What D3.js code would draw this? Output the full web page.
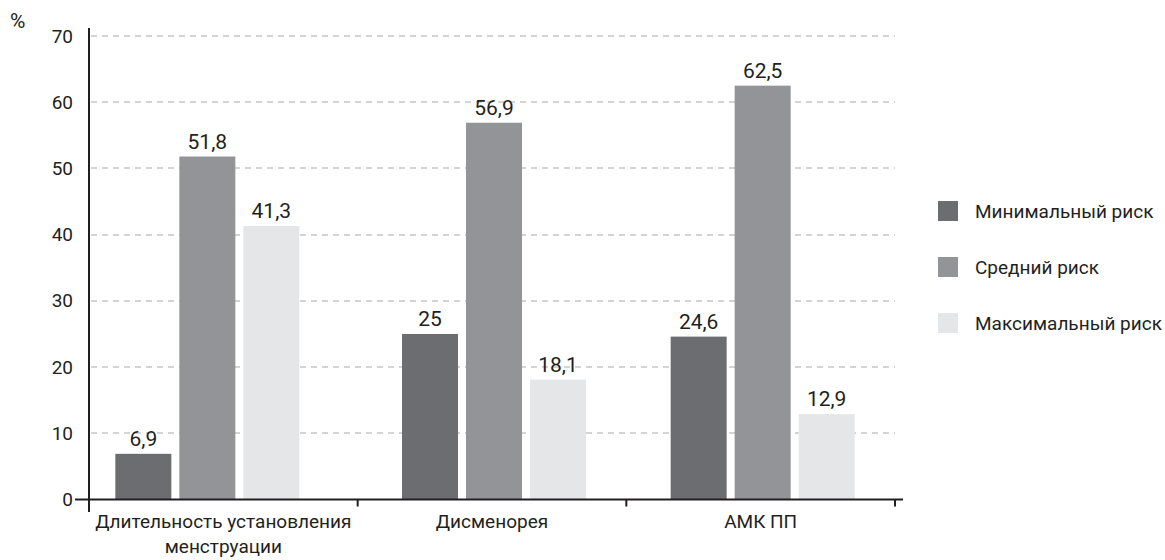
<!DOCTYPE html>
<html>
<head>
<meta charset="utf-8">
<script src="https://cdn.jsdelivr.net/npm/d3@7"></script>
<style>
  html, body { margin: 0; padding: 0; background: #fff; }
  svg text { font-family: Roboto, "Noto Sans", sans-serif; fill: #231f20; }
</style>
</head>
<body>
<svg id="chart" width="1165" height="560"></svg>
<script>
// ---- data ----
const categories = [["Длительность установления", "менструации"], ["Дисменорея"], ["АМК ПП"]];
const seriesNames = ["Минимальный риск", "Средний риск", "Максимальный риск"];
const minRisk = [6.9, 25, 24.6];
const midRisk = [51.8, 56.9, 62.5];
const maxRisk = [41.3, 18.1, 12.9];
const yTicks = [0, 10, 20, 30, 40, 50, 60, 70];
const unitLabel = "%";

// ---- layout / style ----
const colors = ["#6c6d71", "#939497", "#e5e6e8"];
const groupShift = [-16, 2, 2];
const textColor = "#231f20";

const svg = d3.select("#chart");
const x0 = d3.scaleBand().domain(d3.range(categories.length)).range([89, 895]);
const y = d3.scaleLinear().domain([0, 70]).range([499.5, 36]);
const x1 = d3.scaleBand().domain(d3.range(seriesNames.length)).range([0, 184]).paddingInner(0.125);

const series = [minRisk, midRisk, maxRisk];

// grid
svg.append("g").selectAll("line").data(yTicks.filter(d => d > 0)).join("line")
  .attr("x1", 91).attr("x2", 895)
  .attr("y1", d => Math.round(y(d))).attr("y2", d => Math.round(y(d)))
  .attr("stroke", "#c6c6c6").attr("stroke-width", 1.5).attr("stroke-dasharray", "6,5");

// bars
const groups = svg.append("g").selectAll("g").data(categories).join("g")
  .attr("transform", (d, i) => `translate(${x0(i) + x0.bandwidth() / 2 - 92 + groupShift[i]},0)`);

groups.each(function (cat, ci) {
  const g = d3.select(this);
  const vals = series.map(s => s[ci]);
  g.selectAll("rect").data(vals).join("rect")
    .attr("x", (d, si) => x1(si))
    .attr("width", x1.bandwidth())
    .attr("y", d => y(d))
    .attr("height", d => y(0) - y(d))
    .attr("fill", (d, si) => colors[si]);
  g.selectAll("text.val").data(vals).join("text").attr("class", "val")
    .attr("x", (d, si) => x1(si) + x1.bandwidth() / 2)
    .attr("y", d => y(d) - 8)
    .attr("text-anchor", "middle")
    .attr("font-size", 21)
    .text(d => String(d).replace(".", ","));
});

// y axis
const yAxis = d3.axisLeft(y).tickValues(yTicks).tickSize(0).tickPadding(16);
const gy = svg.append("g").attr("transform", "translate(89,0)").call(yAxis);
gy.select(".domain").remove();
gy.selectAll("text").attr("font-size", 19).attr("fill", textColor).style("font-family", 'Roboto, "Noto Sans", sans-serif');
svg.append("line").attr("x1", 89).attr("x2", 89).attr("y1", 28).attr("y2", 512)
  .attr("stroke", textColor).attr("stroke-width", 2);

// x axis
const xAxis = d3.axisBottom(x0).tickSize(0).tickFormat(() => "");
const gx = svg.append("g").attr("transform", `translate(0,${y(0)})`).call(xAxis);
gx.select(".domain").remove();
svg.append("line").attr("x1", 75).attr("x2", 903).attr("y1", y(0)).attr("y2", y(0))
  .attr("stroke", textColor).attr("stroke-width", 2);
const bounds = d3.range(1, categories.length + 1).map(i => i < categories.length ? x0(i) : x0.range()[1]);
svg.append("g").selectAll("line").data(bounds).join("line")
  .attr("x1", d => d).attr("x2", d => d).attr("y1", y(0)).attr("y2", y(0) + 7)
  .attr("stroke", textColor).attr("stroke-width", 2);

// category labels
const cl = svg.append("g").selectAll("text").data(categories).join("text")
  .attr("x", (d, i) => x0(i) + x0.bandwidth() / 2)
  .attr("y", 528)
  .attr("text-anchor", "middle")
  .attr("font-size", 19);
cl.each(function (lines) {
  const t = d3.select(this);
  lines.forEach((ln, k) => {
    t.append("tspan").attr("x", t.attr("x")).attr("dy", k === 0 ? 0 : 25).text(ln);
  });
});

// unit label
svg.append("text").attr("x", 10).attr("y", 28).attr("font-size", 21).text(unitLabel);

// legend
const lg = svg.append("g").selectAll("g").data(seriesNames).join("g")
  .attr("transform", (d, i) => `translate(938,${201 + i * 56})`);
lg.append("rect").attr("width", 20).attr("height", 20).attr("fill", (d, i) => colors[i]);
lg.append("text").attr("x", 37).attr("y", 10).attr("dy", "0.35em").attr("font-size", 19).text(d => d);
</script>
</body>
</html>
